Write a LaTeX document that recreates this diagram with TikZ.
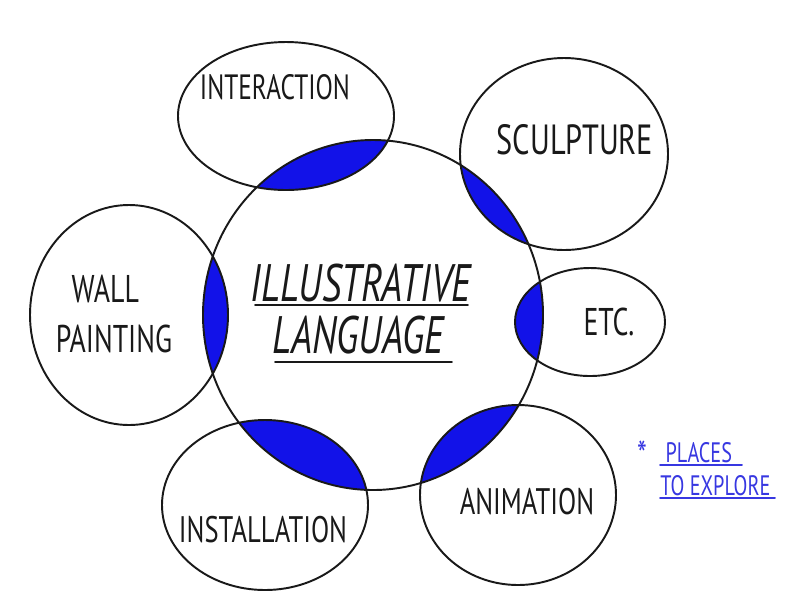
\documentclass[tikz,border=0pt]{standalone}
\usepackage{fontspec}
\setmainfont[FakeStretch=0.72]{PT Sans}
\usepackage{tikz}
\definecolor{LenteAzul}{RGB}{18,18,232}
\definecolor{NotaAzul}{RGB}{55,55,225}
\definecolor{Traco}{RGB}{25,25,25}
\tikzset{
  bolha/.style={draw=Traco, line width=1.1pt},
  lente/.style={fill=LenteAzul},
  rotulo/.style={font=\fontsize{21}{24}\selectfont, text=Traco, align=left, inner sep=0pt},
  titulo/.style={font=\fontsize{30}{32}\selectfont\itshape, text=Traco, inner sep=0pt},
  nota/.style={font=\fontsize{16}{18}\selectfont, text=NotaAzul, inner sep=0pt},
  sublinha/.style={line width=1.1pt, Traco, line cap=round},
}

\begin{document}
\begin{tikzpicture}[x=0.02cm, y=-0.02cm]
  \useasboundingbox (0,0) rectangle (791,600);

  % lentes: interseccao de cada bolha com o circulo central
  \begin{scope}
    \clip (373,315) ellipse [x radius=170, y radius=175];
    \foreach \cx/\cy/\rx/\ry in {286/116/108/74, 564/154/104/96, 590/322/75/54,
                                 518/495/98/90, 265/505/103/85, 129/315/99/110}{
      \fill[lente] (\cx,\cy) ellipse [x radius=\rx, y radius=\ry];
    }
  \end{scope}

  % contornos
  \draw[bolha] (373,315) ellipse [x radius=170, y radius=175];
  \foreach \cx/\cy/\rx/\ry in {286/116/108/74, 564/154/104/96, 590/322/75/54,
                               518/495/98/90, 265/505/103/85, 129/315/99/110}{
    \draw[bolha] (\cx,\cy) ellipse [x radius=\rx, y radius=\ry];
  }

  % titulo central
  \node[titulo] (ilus) at (361,283) {ILLUSTRATIVE};
  \node[titulo] (ling) at (358,335) {LANGUAGE};
  \draw[sublinha] (255,305) -- (468,305);
  \draw[sublinha] (275,362) -- (452,362);

  % rotulos das bolhas
  \node[rotulo, font=\fontsize{20}{22}\selectfont] (inter) at (275,87) {INTERACTION};
  \node[rotulo, font=\fontsize{24}{26}\selectfont] (escul) at (575,140) {SCULPTURE};
  \node[rotulo, font=\fontsize{22}{24}\selectfont] (etc) at (609,322) {ETC.};
  \node[rotulo, font=\fontsize{22}{24}\selectfont] (parede) at (114,314) {\hspace*{9pt}WALL\\[5pt]PAINTING};
  \node[rotulo] (anim) at (527,502) {ANIMATION};
  \node[rotulo] (inst) at (263,530) {INSTALLATION};

  % nota lateral
  \node[nota, font=\fontsize{22}{22}\selectfont] (ast) at (642,455) {*};
  \node[nota, anchor=west, align=left] (locais) at (660,469)
    {\hspace*{3pt}PLACES\\[1pt]TO EXPLORE};
  \draw[sublinha, NotaAzul] (660,465) -- (742,465);
  \draw[sublinha, NotaAzul] (660,498) -- (775,498);
\end{tikzpicture}
\end{document}
